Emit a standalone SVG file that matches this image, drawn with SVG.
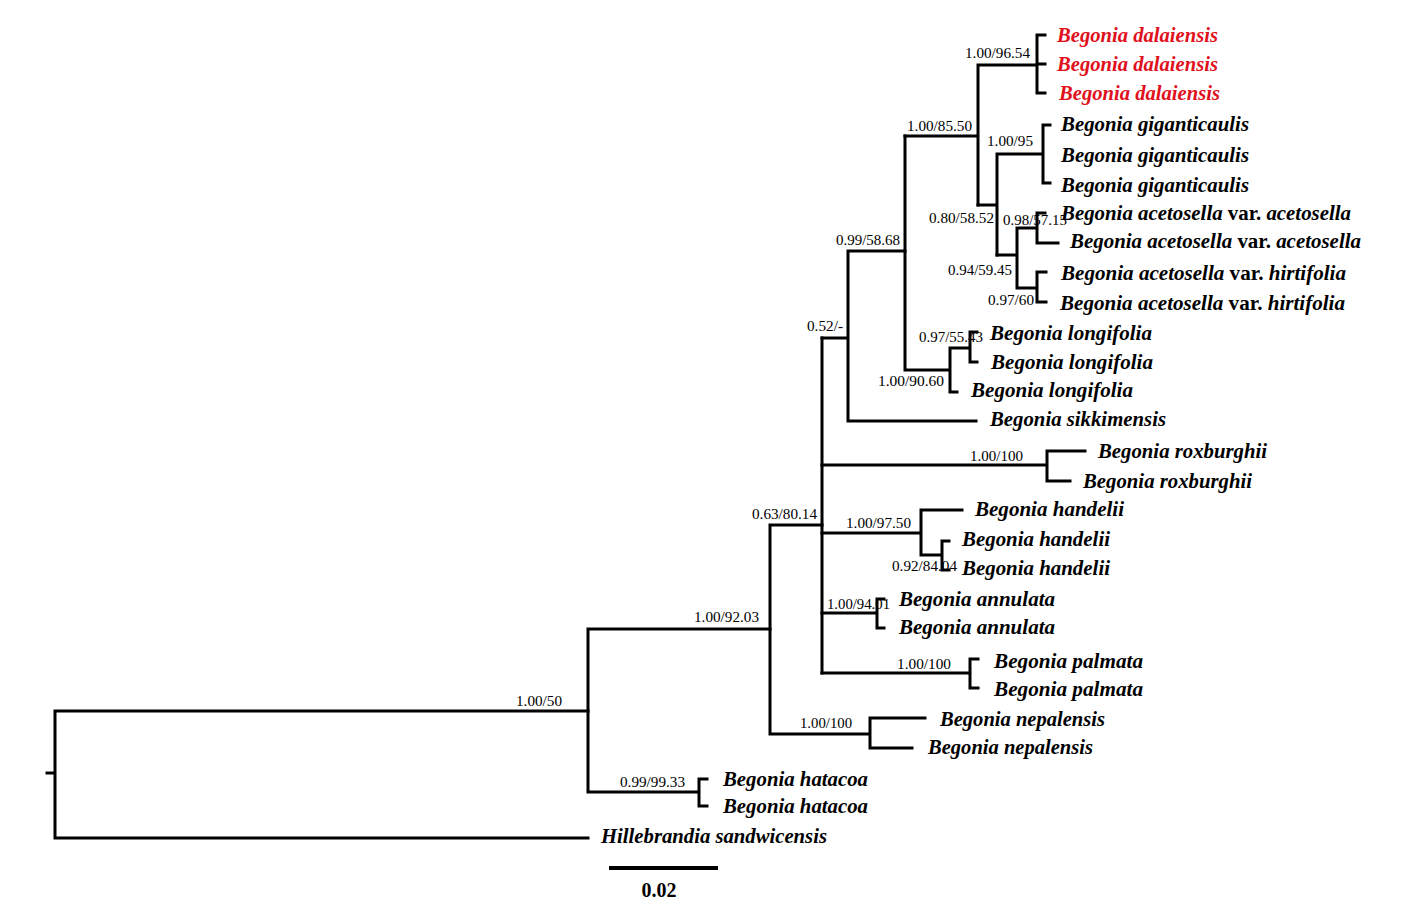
<svg xmlns="http://www.w3.org/2000/svg" width="1428" height="909" viewBox="0 0 1428 909">
<style>
.e{fill:none;stroke:#000;stroke-width:3;stroke-linecap:square}
.t{font-family:"Liberation Serif","Times New Roman",serif;font-size:20.5px;font-weight:bold;font-style:italic;fill:#000}
.r{fill:#e0101c}
.v{font-style:normal}
.s{font-family:"Liberation Serif","Times New Roman",serif;font-size:14.5px;fill:#000}
.sc{font-family:"Liberation Serif","Times New Roman",serif;font-size:20px;font-weight:bold;fill:#000}
</style>
<rect width="1428" height="909" fill="#fff"/>
<g id="connectors">
<path class="e" d="M47,773H55M55,711V838M55,711H588M55,838H588"/>
<path class="e" d="M588,629V792M588,629H770M588,792H699M699,779V806M699,779H707M699,806H707"/>
<path class="e" d="M770,525V734M770,525H822M770,734H870M870,718V748M870,718H925M870,748H912"/>
<path class="e" d="M822,338V673"/>
<path class="e" d="M822,465H1047M1047,451V481M1047,451H1085M1047,481H1070"/>
<path class="e" d="M822,533H921M921,510V555M921,510H962M921,555H942M942,541V570M942,541H949M942,570H949"/>
<path class="e" d="M822,613H877M877,599V628M877,599H884M877,628H884"/>
<path class="e" d="M822,673H970M970,659V688M970,659H978M970,688H978"/>
<path class="e" d="M822,338H848M848,251V421M848,421H976M848,251H905"/>
<path class="e" d="M905,136V370M905,370H950M950,348V392M950,392H957M950,348H970M970,332V362M970,332H977M970,362H977"/>
<path class="e" d="M905,136H978M978,65V205M978,65H1037M1037,35V93M1037,35H1045M1037,64H1045M1037,93H1045"/>
<path class="e" d="M978,205H997M997,154V255M997,154H1043M1043,125V183M1043,125H1050M1043,183H1050"/>
<path class="e" d="M997,255H1017M1017,228V288M1017,228H1037M1037,213V243M1037,213H1045M1037,243H1058M1017,288H1037M1037,272V302M1037,272H1046M1037,302H1046"/>
<path d="M609,868H718" fill="none" stroke="#000" stroke-width="4"/>
</g>
<g id="tip-dalaiensis-1"><text class="t r" x="1057" y="42" textLength="161" lengthAdjust="spacingAndGlyphs">Begonia dalaiensis</text></g>
<g id="tip-dalaiensis-2"><text class="t r" x="1057" y="71" textLength="161" lengthAdjust="spacingAndGlyphs">Begonia dalaiensis</text></g>
<g id="tip-dalaiensis-3"><text class="t r" x="1059" y="100" textLength="161" lengthAdjust="spacingAndGlyphs">Begonia dalaiensis</text></g>
<g id="tip-giganticaulis-1"><text class="t" x="1061" y="131" textLength="188" lengthAdjust="spacingAndGlyphs">Begonia giganticaulis</text></g>
<g id="tip-giganticaulis-2"><text class="t" x="1061" y="162" textLength="188" lengthAdjust="spacingAndGlyphs">Begonia giganticaulis</text></g>
<g id="tip-giganticaulis-3"><text class="t" x="1061" y="192" textLength="188" lengthAdjust="spacingAndGlyphs">Begonia giganticaulis</text></g>
<g id="tip-acetosella-1"><text class="t" x="1061" y="220" textLength="290" lengthAdjust="spacingAndGlyphs">Begonia acetosella <tspan class="v">var.</tspan> acetosella</text></g>
<g id="tip-acetosella-2"><text class="t" x="1070" y="248" textLength="291" lengthAdjust="spacingAndGlyphs">Begonia acetosella <tspan class="v">var.</tspan> acetosella</text></g>
<g id="tip-hirtifolia-1"><text class="t" x="1061" y="280" textLength="285" lengthAdjust="spacingAndGlyphs">Begonia acetosella <tspan class="v">var.</tspan> hirtifolia</text></g>
<g id="tip-hirtifolia-2"><text class="t" x="1060" y="310" textLength="285" lengthAdjust="spacingAndGlyphs">Begonia acetosella <tspan class="v">var.</tspan> hirtifolia</text></g>
<g id="tip-longifolia-1"><text class="t" x="990" y="340" textLength="162" lengthAdjust="spacingAndGlyphs">Begonia longifolia</text></g>
<g id="tip-longifolia-2"><text class="t" x="991" y="369" textLength="162" lengthAdjust="spacingAndGlyphs">Begonia longifolia</text></g>
<g id="tip-longifolia-3"><text class="t" x="971" y="397" textLength="162" lengthAdjust="spacingAndGlyphs">Begonia longifolia</text></g>
<g id="tip-sikkimensis"><text class="t" x="990" y="426" textLength="176" lengthAdjust="spacingAndGlyphs">Begonia sikkimensis</text></g>
<g id="tip-roxburghii-1"><text class="t" x="1098" y="458" textLength="169" lengthAdjust="spacingAndGlyphs">Begonia roxburghii</text></g>
<g id="tip-roxburghii-2"><text class="t" x="1083" y="488" textLength="169" lengthAdjust="spacingAndGlyphs">Begonia roxburghii</text></g>
<g id="tip-handelii-1"><text class="t" x="975" y="516" textLength="149" lengthAdjust="spacingAndGlyphs">Begonia handelii</text></g>
<g id="tip-handelii-2"><text class="t" x="962" y="546" textLength="148" lengthAdjust="spacingAndGlyphs">Begonia handelii</text></g>
<g id="tip-handelii-3"><text class="t" x="962" y="575" textLength="148" lengthAdjust="spacingAndGlyphs">Begonia handelii</text></g>
<g id="tip-annulata-1"><text class="t" x="899" y="606" textLength="156" lengthAdjust="spacingAndGlyphs">Begonia annulata</text></g>
<g id="tip-annulata-2"><text class="t" x="899" y="634" textLength="156" lengthAdjust="spacingAndGlyphs">Begonia annulata</text></g>
<g id="tip-palmata-1"><text class="t" x="994" y="668" textLength="149" lengthAdjust="spacingAndGlyphs">Begonia palmata</text></g>
<g id="tip-palmata-2"><text class="t" x="994" y="696" textLength="149" lengthAdjust="spacingAndGlyphs">Begonia palmata</text></g>
<g id="tip-nepalensis-1"><text class="t" x="940" y="726" textLength="165" lengthAdjust="spacingAndGlyphs">Begonia nepalensis</text></g>
<g id="tip-nepalensis-2"><text class="t" x="928" y="754" textLength="165" lengthAdjust="spacingAndGlyphs">Begonia nepalensis</text></g>
<g id="tip-hatacoa-1"><text class="t" x="723" y="786" textLength="145" lengthAdjust="spacingAndGlyphs">Begonia hatacoa</text></g>
<g id="tip-hatacoa-2"><text class="t" x="723" y="813" textLength="145" lengthAdjust="spacingAndGlyphs">Begonia hatacoa</text></g>
<g id="tip-hillebrandia"><text class="t" x="601" y="843" textLength="226" lengthAdjust="spacingAndGlyphs">Hillebrandia sandwicensis</text></g>
<g id="node-supports">
<text class="s" x="965" y="58" textLength="65" lengthAdjust="spacingAndGlyphs">1.00/96.54</text>
<text class="s" x="907" y="131" textLength="65" lengthAdjust="spacingAndGlyphs">1.00/85.50</text>
<text class="s" x="987" y="146" textLength="46" lengthAdjust="spacingAndGlyphs">1.00/95</text>
<text class="s" x="929" y="223" textLength="65" lengthAdjust="spacingAndGlyphs">0.80/58.52</text>
<text class="s" x="1003" y="225" textLength="64" lengthAdjust="spacingAndGlyphs">0.98/57.15</text>
<text class="s" x="948" y="275" textLength="64" lengthAdjust="spacingAndGlyphs">0.94/59.45</text>
<text class="s" x="988" y="305" textLength="46" lengthAdjust="spacingAndGlyphs">0.97/60</text>
<text class="s" x="836" y="245" textLength="64" lengthAdjust="spacingAndGlyphs">0.99/58.68</text>
<text class="s" x="807" y="331" textLength="36" lengthAdjust="spacingAndGlyphs">0.52/-</text>
<text class="s" x="919" y="342" textLength="64" lengthAdjust="spacingAndGlyphs">0.97/55.43</text>
<text class="s" x="878" y="386" textLength="66" lengthAdjust="spacingAndGlyphs">1.00/90.60</text>
<text class="s" x="970" y="461" textLength="53" lengthAdjust="spacingAndGlyphs">1.00/100</text>
<text class="s" x="752" y="519" textLength="65" lengthAdjust="spacingAndGlyphs">0.63/80.14</text>
<text class="s" x="846" y="528" textLength="65" lengthAdjust="spacingAndGlyphs">1.00/97.50</text>
<text class="s" x="892" y="571" textLength="65" lengthAdjust="spacingAndGlyphs">0.92/84.04</text>
<text class="s" x="827" y="609" textLength="63" lengthAdjust="spacingAndGlyphs">1.00/94.01</text>
<text class="s" x="897" y="669" textLength="54" lengthAdjust="spacingAndGlyphs">1.00/100</text>
<text class="s" x="800" y="728" textLength="52" lengthAdjust="spacingAndGlyphs">1.00/100</text>
<text class="s" x="694" y="622" textLength="65" lengthAdjust="spacingAndGlyphs">1.00/92.03</text>
<text class="s" x="516" y="706" textLength="46" lengthAdjust="spacingAndGlyphs">1.00/50</text>
<text class="s" x="620" y="787" textLength="65" lengthAdjust="spacingAndGlyphs">0.99/99.33</text>
</g>
<g id="scale-bar"><text class="sc" x="659" y="897" text-anchor="middle">0.02</text></g>
</svg>
